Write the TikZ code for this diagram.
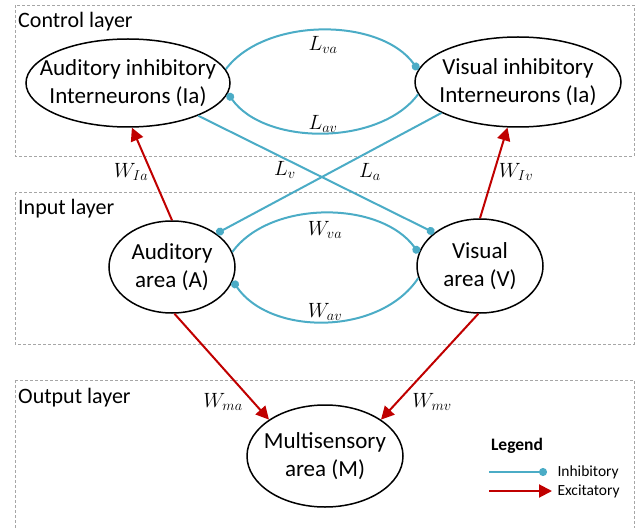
\documentclass[tikz,border=0pt]{standalone}
\usepackage{fontspec}
\setmainfont{Carlito}
\usetikzlibrary{shapes.geometric,arrows.meta}

\definecolor{inhcol}{HTML}{4BACC6}
\definecolor{exccol}{HTML}{C00000}
\definecolor{laycol}{HTML}{A6A6A6}

\newcommand{\bigtxt}{\fontsize{23bp}{28bp}\selectfont}
\newcommand{\laytxt}{\fontsize{22bp}{26bp}\selectfont}
\newcommand{\wtxt}{\fontsize{20bp}{24bp}\selectfont}
\newcommand{\legtxt}{\fontsize{15.5bp}{18bp}\selectfont}

\tikzset{
  unit/.style={draw, ellipse, line width=1.5bp, inner sep=0pt},
  inh/.style={draw=inhcol, line width=2bp, -{Circle[length=8bp]}},
  exc/.style={draw=exccol, line width=2bp, -{Triangle[length=13bp,width=13bp]}},
  layer/.style={draw=laycol, line width=0.8bp, dash pattern=on 3bp off 2bp},
}

\begin{document}
\begin{tikzpicture}[x=1bp,y=-1bp]
  \useasboundingbox (0,0) rectangle (638,528);

  % layers
  \foreach[count=\i] \ytop/\ybot/\txt in {5/156/Control layer,192/344/Input layer,380/540/Output layer} {
    \draw[layer] (15,\ytop) rectangle (634,\ybot);
    \node[anchor=base west,font=\laytxt,inner sep=0pt] (lay\i) at (18,\ytop+23) {\txt};
  }

  % populations
  \node[unit,minimum width=204bp,minimum height=88bp,
    label={[font=\bigtxt,align=center]center:{Auditory inhibitory\\Interneurons (Ia)}}] (audI) at (128,83) {};
  \node[unit,minimum width=206bp,minimum height=90bp,
    label={[font=\bigtxt,align=center]center:{Visual inhibitory\\Interneurons (Ia)}}] (visI) at (518,82) {};
  \node[unit,minimum width=126bp,minimum height=92bp,
    label={[font=\bigtxt,align=center]center:{Auditory\\area (A)}}] (audA) at (172,267) {};
  \node[unit,minimum width=126bp,minimum height=94bp,
    label={[font=\bigtxt,align=center]center:{Visual\\area (V)}}] (visV) at (480,266) {};
  \node[unit,minimum width=156bp,minimum height=102bp,
    label={[font=\bigtxt,align=center]center:{Multisensory\\area (M)}}] (multi) at (325,456) {};

  % inhibitory links
  \draw[inh] (audI.8) .. controls (265,17) and (380,17) .. (visI.173);
  \draw[inh] (visI.187) .. controls (380,146) and (265,146) .. (audI.-6);
  \draw[inh] (audI.-25) -- (visV.144);
  \draw[inh] (visI.202) -- (audA.37);
  \draw[inh] (audA.14) .. controls (270,200) and (380,200) .. (visV.168);
  \draw[inh] (visV.191) .. controls (380,336) and (270,336) .. (audA.-13);

  % excitatory links
  \draw[exc] (audA.north) -- (audI.-85);
  \draw[exc] (visV.north) -- (visI.257);
  \draw[exc] (audA.-87) -- (multi.147);
  \draw[exc] (visV.-92) -- (multi.33);

  % weights
  \node[font=\wtxt] (lva) at (323,45) {$L_{va}$};
  \node[font=\wtxt] (lav) at (323,124) {$L_{av}$};
  \node[font=\wtxt] (lv) at (285,170) {$L_{v}$};
  \node[font=\wtxt] (la) at (370,172) {$L_{a}$};
  \node[font=\wtxt] (wva) at (325,230) {$W_{va}$};
  \node[font=\wtxt] (wav) at (325,312) {$W_{av}$};
  \node[font=\wtxt] (wia) at (131,172) {$W_{Ia}$};
  \node[font=\wtxt] (wiv) at (516,172) {$W_{Iv}$};
  \node[font=\wtxt] (wma) at (223,402) {$W_{ma}$};
  \node[font=\wtxt] (wmv) at (432,402) {$W_{mv}$};

  % legend
  \node[font=\fontsize{17.5bp}{20bp}\selectfont\bfseries] (leg) at (517,446) {Legend};
  \coordinate (inhA) at (489,472);
  \coordinate (inhB) at (547,472);
  \draw[inh] (inhA) -- (inhB);
  \node[font=\legtxt,anchor=west] (inhtxt) at (554,472) {Inhibitory};
  \coordinate (excA) at (489,491);
  \coordinate (excB) at (552,491);
  \draw[exc] (excA) -- (excB);
  \node[font=\legtxt,anchor=west] (exctxt) at (554,491) {Excitatory};
\end{tikzpicture}
\end{document}
